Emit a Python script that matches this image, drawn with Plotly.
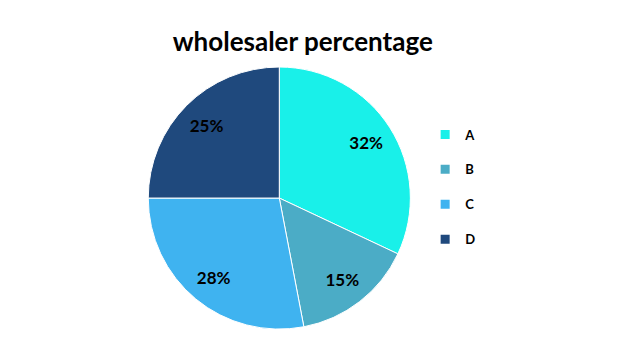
import plotly.graph_objects as go

labels = ["A", "B", "C", "D"]
values = [32, 15, 28, 25]
colors = ["#19F0E9", "#4BACC6", "#3FB3F0", "#1F497D"]

dom = dict(x=[0.226, 0.652], y=[0.113, 0.837])

fig = go.Figure()
fig.add_trace(go.Pie(
    labels=labels, values=values, sort=False, direction="clockwise", rotation=0,
    marker=dict(colors=colors, line=dict(color="white", width=1)),
    textinfo="none", showlegend=False, hoverinfo="skip", domain=dom,
))
# transparent ring carrying the percentage labels, so they sit toward the rim
fig.add_trace(go.Pie(
    labels=labels, values=values, sort=False, direction="clockwise", rotation=0,
    hole=0.57,
    marker=dict(colors=["rgba(0,0,0,0)"] * 4, line=dict(width=0)),
    textinfo="percent", texttemplate="<b>%{percent:.0%}</b>",
    textposition="inside", insidetextorientation="horizontal",
    textfont=dict(family="Lato, Open Sans, sans-serif", size=17, color="black"),
    showlegend=False, hoverinfo="skip", domain=dom,
))
for lab, col in zip(labels, colors):
    fig.add_trace(go.Scatter(
        x=[None], y=[None], mode="markers", name=lab, legendgroup=lab,
        marker=dict(symbol="square", size=9, color=col),
    ))

fig.update_layout(
    width=618, height=362,
    margin=dict(l=0, r=0, t=0, b=0),
    paper_bgcolor="white", plot_bgcolor="white",
    title=dict(text="<b>wholesaler percentage</b>", x=0.477, xanchor="center",
               y=0.905, yanchor="middle",
               font=dict(family="Lato, Open Sans, sans-serif", size=26, color="black")),
    xaxis=dict(visible=False), yaxis=dict(visible=False),
    legend=dict(x=0.675, y=0.692, xanchor="left", yanchor="top",
                itemwidth=30, tracegroupgap=15,
                font=dict(family="Lato, Open Sans, sans-serif", size=13, color="black",
                          weight="bold")),
)
fig.write_html("out.html")
